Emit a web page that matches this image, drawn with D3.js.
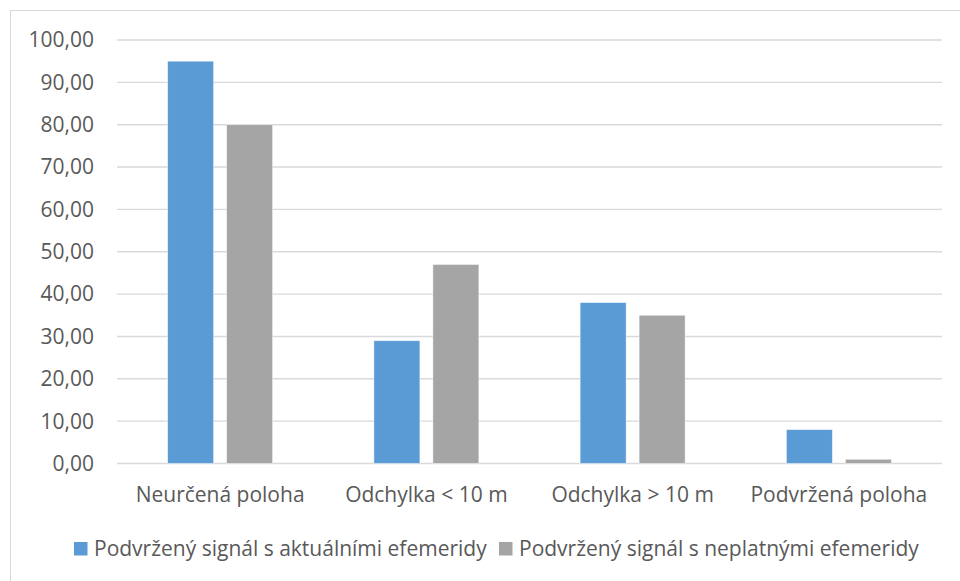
<!DOCTYPE html>
<html>
<head>
<meta charset="utf-8">
<script src="https://cdn.jsdelivr.net/npm/d3@7/dist/d3.min.js"></script>
<style>
  html, body { margin: 0; padding: 0; background: #fff; }
  svg { display: block; }
  text { font-family: "Open Sans", "Noto Sans", sans-serif; fill: #595959; }
</style>
</head>
<body>
<script>
const categories = ["Neurčená poloha", "Odchylka < 10 m", "Odchylka > 10 m", "Podvržená poloha"];
const seriesNames = ["Podvržený signál s aktuálními efemeridy", "Podvržený signál s neplatnými efemeridy"];
const seriesCurrent = [95, 29, 38, 8];
const seriesInvalid = [80, 47, 35, 1];
const yTicks = [0, 10, 20, 30, 40, 50, 60, 70, 80, 90, 100];
const colors = ["#5B9BD5", "#A5A5A5"];

const W = 960, H = 581;
const FS = 21;
const svg = d3.select("body").append("svg").attr("width", W).attr("height", H);

// chart frame
svg.append("rect")
  .attr("x", 10.5).attr("y", 10.5)
  .attr("width", W + 10).attr("height", H + 10)
  .attr("fill", "#fff").attr("stroke", "#d9d9d9").attr("stroke-width", 1);

const plot = { left: 117, right: 942, top: 40, bottom: 463.5 };

const x = d3.scaleBand().domain(categories).range([plot.left, plot.right]).paddingInner(0).paddingOuter(0);
const y = d3.scaleLinear().domain([0, 100]).range([plot.bottom, plot.top]);
const inner = d3.scaleBand().domain([0, 1]).range([-52.5, 52.5]).paddingInner(0.22).paddingOuter(0);

// gridlines
svg.append("g").selectAll("line").data(yTicks).join("line")
  .attr("x1", plot.left).attr("x2", plot.right)
  .attr("y1", d => y(d)).attr("y2", d => y(d))
  .attr("stroke", "#d9d9d9").attr("stroke-width", 1.4);

// y-axis labels
const fmt = d => d3.format(".2f")(d).replace(".", ",");
svg.append("g").selectAll("text").data(yTicks).join("text")
  .attr("x", 94).attr("y", d => y(d)).attr("dy", "0.35em")
  .attr("text-anchor", "end").attr("font-size", FS)
  .text(fmt);

// bars
const data = categories.map((c, i) => ({ c, vals: [seriesCurrent[i], seriesInvalid[i]] }));
const groups = svg.append("g").selectAll("g").data(data).join("g")
  .attr("transform", d => `translate(${x(d.c) + x.bandwidth() / 2},0)`);
groups.selectAll("rect").data(d => d.vals.map((v, s) => ({ v, s }))).join("rect")
  .attr("x", d => inner(d.s)).attr("width", inner.bandwidth())
  .attr("y", d => y(d.v)).attr("height", d => y(0) - y(d.v))
  .attr("fill", d => colors[d.s])
  .attr("stroke", "#fff").attr("stroke-opacity", 0.6).attr("stroke-width", 0.8);

// category labels
svg.append("g").selectAll("text").data(categories).join("text")
  .attr("x", d => x(d) + x.bandwidth() / 2).attr("y", 502)
  .attr("text-anchor", "middle").attr("font-size", FS)
  .text(d => d);

// legend
const legendItems = [
  { name: seriesNames[0], color: colors[0], sx: 74, tx: 94 },
  { name: seriesNames[1], color: colors[1], sx: 499, tx: 519 }
];
const lg = svg.append("g").selectAll("g").data(legendItems).join("g");
lg.append("rect").attr("x", d => d.sx).attr("y", 542).attr("width", 13.5).attr("height", 13.5)
  .attr("fill", d => d.color);
lg.append("text").attr("x", d => d.tx).attr("y", 549).attr("dy", "0.35em")
  .attr("font-size", FS).text(d => d.name);
</script>
</body>
</html>
